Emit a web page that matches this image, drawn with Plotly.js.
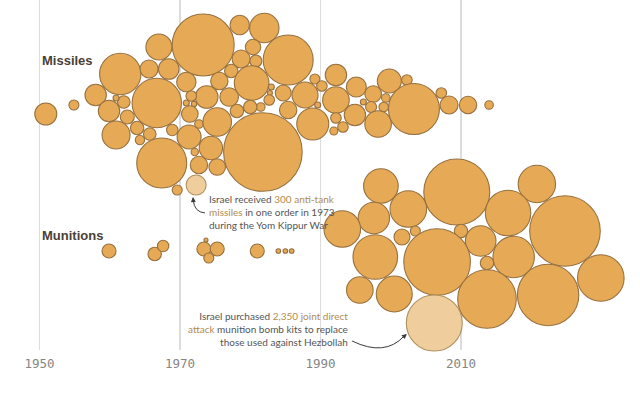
<!DOCTYPE html>
<html>
<head>
<meta charset="utf-8">
<script src="https://cdn.plot.ly/plotly-3.0.1.min.js"></script>
<style>html,body{margin:0;padding:0;background:#fff;}#chart{width:640px;height:396px;}</style>
</head>
<body>
<div id="chart"></div>
<script>
// ---- Data ----
const tickYears = [1950, 1970, 1990, 2010];
const tickLabels = ["1950", "1970", "1990", "2010"];
const categories = ["Missiles", "Munitions"];

// Missile orders: year of delivery (beeswarm position), swarm offset, quantity
const missileYear = [1950.9,1954.9,1958.0,1961.5,1967.0,1973.3,1978.5,1982.0,1985.4,1966.7,
  1965.6,1968.4,1970.9,1975.6,1978.7,1980.4,1980.8,1977.3,1980.2,1989.2,
  1987.8,1984.7,1983.0,1982.8,1982.7,1981.5,1980.0,1978.1,1977.0,1973.8,
  1971.6,1970.9,1972.0,1971.4,1972.7,1975.3,1985.4,1988.9,1981.8,1967.4,
  1971.3,1974.4,1972.7,1975.3,1972.1,1969.6,1968.9,1965.7,1964.3,1963.9,
  1962.5,1959.9,1962.0,1960.9,1960.9,1990.2,1992.2,1992.2,1989.6,1995.1,
  1997.5,1999.8,2002.3,1999.3,1997.2,1999.0,1994.9,1992.2,1993.2,1991.9,
  1998.2,2003.3,2007.2,2008.3,2011.0,2014.0,1996.1];
const missileOffset = [6,-3,-13,-34,-61,-63,-83,-80,-48,-5,
  -39,-39,-26,-27,-49,-61,-47,-37,-25,-29,
  -13,-15,-21,-15,-8,-1,-1,3,-11,-11,
  -12,-5,-4,6,16,14,2,16,44,55,
  29,40,57,59,44,82,22,26,32,20,
  9,3,-6,-10,27,-22,-33,-8,-3,-21,
  -14,-27,-28,-10,-1,-1,7,10,19,23,
  16,1,-15,-3,-3,-3,-6];
const missileQty = [363,75,343,1285,507,2883,282,648,1875,1830,
  243,318,282,227,243,178,108,135,898,75,
  507,192,27,19,84,55,135,135,259,383,
  84,27,22,207,55,613,227,768,4633,1875,
  432,411,227,207,41,75,97,119,66,135,
  147,343,119,27,588,84,343,531,27,300,
  207,432,84,55,91,69,343,84,84,48,
  531,1951,84,243,227,55,27];
// Highlighted order: 300 anti-tank missiles, 1973
const missileHiYear = [1972.3];
const missileHiOffset = [77];
const missileHiQty = [300];

const munitionYear = [1959.9,1966.4,1967.6,1973.4,1973.7,1975.3,1974.1,1981.0,1984.0,1985.0,
  1985.9,1998.6,2009.4,2020.8,2002.5,1997.6,1993.1,2016.7,2024.8,2010.0,
  2012.8,2001.6,2003.5,1997.8,2006.6,2017.5,2013.7,2029.9,1995.6,2000.5,
  2013.7,2022.4];
const munitionOffset = [-3,0,-8,-5,-14,-5,4,-3,-3,-3,
  -3,-68,-62,-70,-45,-36,-25,-41,-23,-23,
  -13,-17,-23,3,8,3,9,24,36,40,
  45,41];
const munitionQty = [147,135,97,147,12,147,75,147,16,16,
  16,898,3267,1049,1005,739,1005,1546,3738,135,
  702,192,75,1492,3327,1285,135,1629,531,972,
  2575,2827];
// Highlighted order: 2,350 JDAM kits
const munitionHiYear = [2006.2];
const munitionHiOffset = [69];
const munitionHiQty = [2350];

// ---- Layout helpers ----
const laneCenter = {"Missiles": 108, "Munitions": 254};
const FILL = "#e6a955", EDGE = "#967140";
const HIFILL = "#f0cd9c", HIEDGE = "#b0905e";
const SIZEREF = 1.5;

function bubbles(years, offsets, qty, cat, fill, edge) {
  return {
    type: "scatter", mode: "markers",
    x: years,
    y: offsets.map(o => laneCenter[cat] + o),
    marker: {size: qty, sizemode: "area", sizeref: SIZEREF, color: fill,
             line: {color: edge, width: 1.1}, opacity: 1},
    hoverinfo: "skip", showlegend: false, cliponaxis: false
  };
}

const traces = [
  bubbles(missileYear, missileOffset, missileQty, "Missiles", FILL, EDGE),
  bubbles(missileHiYear, missileHiOffset, missileHiQty, "Missiles", HIFILL, HIEDGE),
  bubbles(munitionYear, munitionOffset, munitionQty, "Munitions", FILL, EDGE),
  bubbles(munitionHiYear, munitionHiOffset, munitionHiQty, "Munitions", HIFILL, HIEDGE)
];

const HL = "#b38b50";
const noteFont = {family: "Lato, 'Liberation Sans', sans-serif", size: 10, color: "#555"};

const layout = {
  width: 640, height: 396,
  margin: {l: 0, r: 0, t: 0, b: 46},
  paper_bgcolor: "#fff", plot_bgcolor: "#fff",
  xaxis: {range: [1944.38, 2035.48], tickvals: tickYears, ticktext: tickLabels,
          showgrid: true, gridcolor: "#dcdcdc", gridwidth: 1.5, zeroline: false,
          showline: false, ticks: "", fixedrange: true, ticklabelstandoff: 4,
          tickfont: {family: "'DejaVu Sans Mono', monospace", size: 12.5, color: "#858585"}},
  yaxis: {range: [350, 0], visible: false, showgrid: false, zeroline: false, fixedrange: true},
  annotations: [
    {xref: "x", yref: "y", x: 1950.1, y: laneCenter["Missiles"] - 48, text: "<b>" + categories[0] + "</b>",
     showarrow: false, xanchor: "left", yanchor: "middle",
     font: {family: "'Liberation Sans', Arial, sans-serif", size: 13, color: "#4b4036"}},
    {xref: "x", yref: "y", x: 1950.1, y: laneCenter["Munitions"] - 19, text: "<b>" + categories[1] + "</b>",
     showarrow: false, xanchor: "left", yanchor: "middle",
     font: {family: "'Liberation Sans', Arial, sans-serif", size: 13, color: "#4b4036"}},
    {xref: "x", yref: "y", x: 1973.8, y: 212, xanchor: "left", yanchor: "middle", align: "left",
     showarrow: false, font: noteFont,
     text: "Israel received <span style='color:" + HL + "'>300 anti-tank</span><br><span style='color:" + HL + "'>missiles</span> in one order in 1973<br>during the Yom Kippur War"},
    {xref: "x", yref: "y", x: 1994.2, y: 329, xanchor: "right", yanchor: "middle", align: "right",
     showarrow: false, font: noteFont,
     text: "Israel purchased <span style='color:" + HL + "'>2,350 joint direct</span><br><span style='color:" + HL + "'>attack</span> munition bomb kits to replace<br>those used against Hezbollah"},
    {xref: "x", yref: "y", x: 1971.85, y: 197, ax: 0.5, ay: 7, text: "", showarrow: true,
     arrowhead: 2, arrowsize: 1, arrowwidth: 1, arrowcolor: "#3a3a3a"},
    {xref: "x", yref: "y", x: 2002.3, y: 334, ax: -6, ay: 5, text: "", showarrow: true,
     arrowhead: 2, arrowsize: 1, arrowwidth: 1, arrowcolor: "#3a3a3a"}
  ],
  shapes: [
    {type: "path", xref: "x", yref: "y", path: "M 1973.56 213 Q 1972.0 212 1971.9 200",
     line: {color: "#3a3a3a", width: 1}},
    {type: "path", xref: "x", yref: "y", path: "M 1994.5 341 Q 1999.2 357 2001.9 336",
     line: {color: "#3a3a3a", width: 1}}
  ]
};

Plotly.newPlot("chart", traces, layout, {displayModeBar: false, staticPlot: true});
</script>
</body>
</html>
